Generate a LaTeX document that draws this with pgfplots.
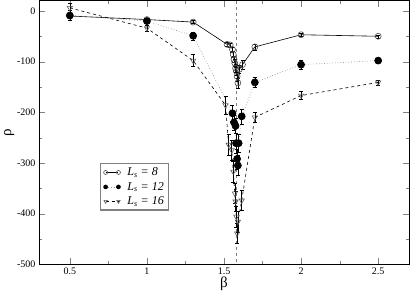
\documentclass[border=0pt]{standalone}
\usepackage{fontspec}
\setmainfont{Liberation Serif}
\usepackage{pgfplots}
\pgfplotsset{compat=1.18}
\usepackage{pgfplotstable}

\pgfplotstableread{
b r e
0.5 -10 4
1.0 -17 3
1.3 -22 3
1.52 -66 4
1.54 -67 4
1.555 -76 5
1.56 -86 6
1.565 -96 6
1.57 -103 7
1.575 -113 8
1.58 -119 8
1.585 -129 9
1.59 -142 10
1.6 -115 8
1.62 -106 8
1.7 -71 6
2.0 -47 3
2.5 -50 3
}\tabA

\pgfplotstableread{
b r e
0.5 -9 10
1.0 -20 5
1.3 -49 8
1.555 -202 15
1.565 -220 15
1.575 -227 15
1.578 -261 20
1.585 -292 20
1.59 -305 20
1.595 -261 18
1.615 -208 15
1.7 -141 10
2.0 -106 8
2.5 -98 5
}\tabB

\pgfplotstableread{
b r e
0.5 6 10
1.0 -34 6
1.3 -98 12
1.51 -186 18
1.53 -264 20
1.55 -275 20
1.56 -317 20
1.57 -360 20
1.575 -376 20
1.58 -406 20
1.585 -439 20
1.59 -416 20
1.615 -374 20
1.7 -210 10
2.0 -167 8
2.5 -141 5
}\tabC

\begin{document}
\begin{tikzpicture}
\begin{axis}[
  at={(0pt,0pt)}, anchor=south west,
  scale only axis, width=370pt, height=263.5pt,
  xmin=0.3, xmax=2.7, ymin=-500, ymax=20,
  xtick={0.5,1,1.5,2,2.5}, minor xtick={0.75,1.25,1.75,2.25},
  ytick={-500,-400,-300,-200,-100,0}, minor ytick={-450,-350,-250,-150,-50},
  tick align=inside, major tick length=6pt, minor tick length=3pt,
  xticklabel style={font=\fontsize{10}{11}\selectfont},
  yticklabel style={font=\fontsize{10}{11}\selectfont},
  /pgf/number format/assume math mode=true,
  xlabel={β}, ylabel={ρ},
  xlabel style={font=\fontsize{15}{17}\selectfont, yshift=5pt},
  ylabel style={font=\fontsize{15}{17}\selectfont, yshift=-4pt},
  axis line style={line width=0.9pt},
  legend style={at={(0.165,0.384)}, anchor=north west, draw=gray, line width=1.2pt,
    font=\fontsize{12}{14}\selectfont\itshape, inner xsep=3pt, inner ysep=2pt, row sep=1pt,
    /tikz/every odd column/.append style={column sep=5pt}},
  legend cell align=left,
  legend image code/.code={\draw[mark repeat=1,mark phase=1,#1,mark size=2pt,line width=0.6pt] plot coordinates {(0cm,0cm) (0.45cm,0cm)};},
  error bars/error bar style={line width=0.5pt},
  error bars/error mark options={rotate=90, mark size=2pt},
]
\draw[gray, dashed, line width=1.5pt] (axis cs:1.582,20) -- (axis cs:1.582,-500);
\addplot[black, line width=0.6pt, mark=o, mark size=3pt, mark options={solid, gray!60!black, line width=0.6pt},
  error bars/.cd, y dir=both, y explicit] table[x=b, y=r, y error=e] {\tabA};
\addlegendentry{L\textsubscript{s} = 8}
\addplot[gray!80, dotted, line width=0.7pt, mark=*, mark size=3.5pt, mark options={solid, black, fill=black},
  error bars/.cd, y dir=both, y explicit, error bar style={black, solid}] table[x=b, y=r, y error=e] {\tabB};
\addlegendentry{L\textsubscript{s} = 12}
\addplot[black, dashed, line width=0.6pt, mark=triangle, mark size=3pt, mark options={solid, rotate=180, gray!70!black},
  error bars/.cd, y dir=both, y explicit, error bar style={black, solid}] table[x=b, y=r, y error=e] {\tabC};
\addlegendentry{L\textsubscript{s} = 16}
\end{axis}
\pgfresetboundingbox
\useasboundingbox (-39pt,-31pt) rectangle (376pt,264.3pt);
\end{tikzpicture}
\end{document}
